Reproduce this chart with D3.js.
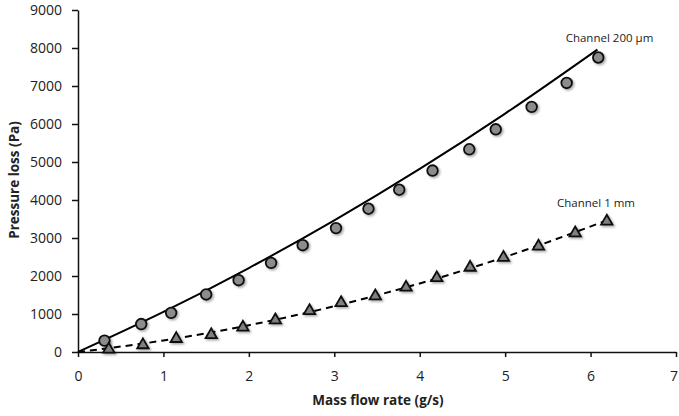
<!DOCTYPE html>
<html>
<head>
<meta charset="utf-8">
<script src="https://cdn.jsdelivr.net/npm/d3@7"></script>
<style>
  html, body { margin: 0; padding: 0; background: #fff; }
  svg { display: block; }
  text { font-family: "Open Sans", sans-serif; fill: #222; }
</style>
</head>
<body>
<script>
// ---- data ----
const xTicks = [0, 1, 2, 3, 4, 5, 6, 7];
const yTicks = [0, 1000, 2000, 3000, 4000, 5000, 6000, 7000, 8000, 9000];

// Channel 200 µm (circles)
const ch200X = [0.31, 0.74, 1.09, 1.50, 1.88, 2.26, 2.63, 3.02, 3.40, 3.76, 4.15, 4.58, 4.89, 5.31, 5.72, 6.09];
const ch200Y = [300, 735, 1030, 1515, 1890, 2345, 2810, 3260, 3770, 4270, 4775, 5335, 5860, 6450, 7080, 7750];
// fitted curve for Channel 200 µm (solid)
const fit200X = [0, 1, 2, 3, 4, 5, 6.08];
const fit200Y = [0, 1055, 2210, 3465, 4820, 6275, 7960];

// Channel 1 mm (triangles)
const ch1X = [0.36, 0.76, 1.15, 1.56, 1.93, 2.31, 2.71, 3.08, 3.48, 3.84, 4.20, 4.59, 4.98, 5.39, 5.82, 6.19];
const ch1Y = [70, 185, 350, 450, 650, 840, 1085, 1295, 1470, 1700, 1950, 2225, 2485, 2780, 3130, 3440];
// fitted curve for Channel 1 mm (dashed)
const fit1X = [0, 1, 2, 3, 4, 5, 6.2];
const fit1Y = [0, 303, 705, 1205, 1804, 2502, 3470];

const labels = { ch200: "Channel 200 µm", ch1: "Channel 1 mm", xTitle: "Mass flow rate (g/s)", yTitle: "Pressure loss (Pa)" };

// ---- layout ----
const W = 679, H = 416;
const svg = d3.select("body").append("svg").attr("width", W).attr("height", H);

const defs = svg.append("defs");
const f = defs.append("filter").attr("id", "shadow").attr("x", "-50%").attr("y", "-50%").attr("width", "200%").attr("height", "200%");
f.append("feDropShadow").attr("dx", 1.5).attr("dy", 1.5).attr("stdDeviation", 0.9).attr("flood-color", "#000").attr("flood-opacity", 0.35);

const x = d3.scaleLinear().domain([0, 7]).range([78, 676]);
const y = d3.scaleLinear().domain([0, 9000]).range([352, 10]);

// axes
const gx = svg.append("g").attr("transform", `translate(0,${y(0)})`)
  .call(d3.axisBottom(x).tickValues(xTicks).tickFormat(d3.format("d")).tickSize(5).tickPadding(14).tickSizeOuter(0));
const gy = svg.append("g").attr("transform", `translate(${x(0)},0)`)
  .call(d3.axisLeft(y).tickValues(yTicks).tickFormat(d3.format("d")).tickSize(6).tickPadding(10).tickSizeOuter(0));
[gx, gy].forEach(g => {
  g.select(".domain").attr("stroke", "#111").attr("stroke-width", 1.5);
  g.selectAll(".tick line").attr("stroke", "#111").attr("stroke-width", 1.5);
  g.selectAll(".tick text").attr("font-size", 14).attr("font-family", "Open Sans, sans-serif").attr("fill", "#1a1a1a");
});
// keep the last x label inside the window
gx.selectAll(".tick text").filter(d => d === 7).attr("dx", -2.5);

// axis titles
svg.append("text").attr("x", 378).attr("y", 405).attr("text-anchor", "middle")
  .attr("font-size", 13.5).attr("font-weight", "bold").attr("fill", "#1a1a1a").text(labels.xTitle);
svg.append("text").attr("transform", `translate(19,180) rotate(-90)`).attr("text-anchor", "middle")
  .attr("font-size", 13.5).attr("font-weight", "bold").attr("fill", "#1a1a1a").text(labels.yTitle);

// fitted curves
const line = d3.line().x(d => x(d[0])).y(d => y(d[1])).curve(d3.curveMonotoneX);
svg.append("path").datum(d3.zip(fit200X, fit200Y)).attr("d", line)
  .attr("fill", "none").attr("stroke", "#000").attr("stroke-width", 2);
svg.append("path").datum(d3.zip(fit1X, fit1Y)).attr("d", line)
  .attr("fill", "none").attr("stroke", "#000").attr("stroke-width", 2).attr("stroke-dasharray", "7,5");

// markers
svg.append("g").selectAll("circle").data(d3.zip(ch200X, ch200Y)).join("circle")
  .attr("cx", d => x(d[0])).attr("cy", d => y(d[1])).attr("r", 5.3)
  .attr("fill", "#8c8c8c").attr("stroke", "#111").attr("stroke-width", 1.8)
  .attr("filter", "url(#shadow)");

const tri = d3.symbol().type(d3.symbolTriangle).size(56);
svg.append("g").selectAll("path").data(d3.zip(ch1X, ch1Y)).join("path")
  .attr("transform", d => `translate(${x(d[0])},${y(d[1])})`).attr("d", tri)
  .attr("fill", "#808080").attr("stroke", "#111").attr("stroke-width", 1.8)
  .attr("filter", "url(#shadow)");

// series labels
svg.append("text").attr("x", 609.5).attr("y", 42).attr("text-anchor", "middle")
  .attr("font-size", 11.5).attr("fill", "#333").text(labels.ch200);
svg.append("text").attr("x", 596).attr("y", 206.5).attr("text-anchor", "middle")
  .attr("font-size", 11.5).attr("fill", "#333").text(labels.ch1);
</script>
</body>
</html>
